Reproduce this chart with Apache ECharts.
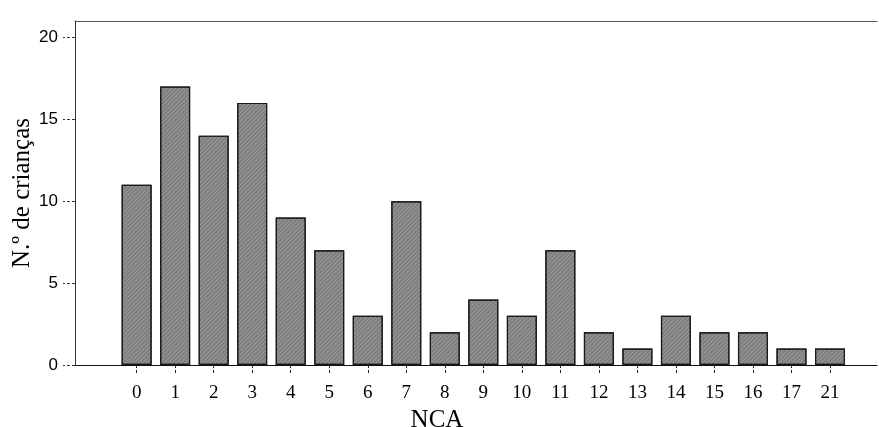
<!DOCTYPE html>
<html>
<head>
<meta charset="utf-8">
<script src="https://cdn.jsdelivr.net/npm/echarts@6/dist/echarts.min.js"></script>
<style>
html,body{margin:0;padding:0;background:#fff;}
#chart{width:879px;height:427px;}
</style>
</head>
<body>
<div id="chart"></div>
<script>
// Data
const categories = ['0','1','2','3','4','5','6','7','8','9','10','11','12','13','14','15','16','17','21'];
const counts = [11, 17, 14, 16, 9, 7, 3, 10, 2, 4, 3, 7, 2, 1, 3, 2, 2, 1, 1];
const yTicks = [0, 5, 10, 15, 20];

const positions = categories.map((c, i) => i);
const barData = counts.map((v, i) => [i, v]);

const chart = echarts.init(document.getElementById('chart'), null, {renderer: 'canvas'});
chart.setOption({
  backgroundColor: '#ffffff',
  animation: false,
  grid: {left: 75, right: 2, top: 21, bottom: 62, containLabel: false, outerBoundsMode: 'none'},
  xAxis: [{
    type: 'value',
    min: -1.6,
    max: 19.22,
    position: 'bottom',
    axisLine: {show: true, onZero: false, lineStyle: {color: '#111', width: 1.2}},
    axisTick: {show: true, customValues: positions, length: 10, lineStyle: {color: '#222', type: [3, 2]}},
    axisLabel: {
      show: true, customValues: positions, margin: 19,
      formatter: v => categories[Math.round(v)],
      fontFamily: 'Liberation Serif', fontSize: 19, color: '#000'
    },
    splitLine: {show: false},
    name: 'NCA',
    nameLocation: 'middle',
    nameGap: 40,
    nameTextStyle: {fontFamily: 'Liberation Serif', fontSize: 25, color: '#000', padding: [0, 78, 0, 0]}
  }, {
    type: 'value',
    min: -1.6,
    max: 19.22,
    position: 'top',
    axisLine: {show: true, onZero: false, lineStyle: {color: '#555', width: 1}},
    axisTick: {show: false},
    axisLabel: {show: false},
    splitLine: {show: false}
  }],
  yAxis: {
    type: 'value',
    min: 0,
    max: 21,
    position: 'left',
    axisLine: {show: true, onZero: false, lineStyle: {color: '#333', width: 1}},
    axisTick: {show: true, customValues: yTicks, length: 12, lineStyle: {color: '#333', type: [3, 2]}},
    axisLabel: {
      show: true, customValues: yTicks, margin: 17,
      fontFamily: 'Liberation Sans', fontSize: 17, color: '#000'
    },
    splitLine: {show: false},
    name: 'N.º de crianças',
    nameLocation: 'middle',
    nameGap: 40,
    nameMoveOverlap: false,
    nameRotate: 90,
    nameTextStyle: {fontFamily: 'Liberation Serif', fontSize: 25, color: '#000'}
  },
  series: [{
    type: 'bar',
    xAxisIndex: 0,
    data: barData,
    barWidth: 30,
    itemStyle: {
      color: '#7d7d7d',
      borderColor: '#1a1a1a',
      borderWidth: 1.2,
      decal: {
        symbol: 'rect',
        symbolSize: 1,
        dashArrayX: [1, 0],
        dashArrayY: [1, 2],
        rotation: -Math.PI / 4,
        color: 'rgba(255,255,255,0.22)'
      }
    }
  }]
});
</script>
</body>
</html>
